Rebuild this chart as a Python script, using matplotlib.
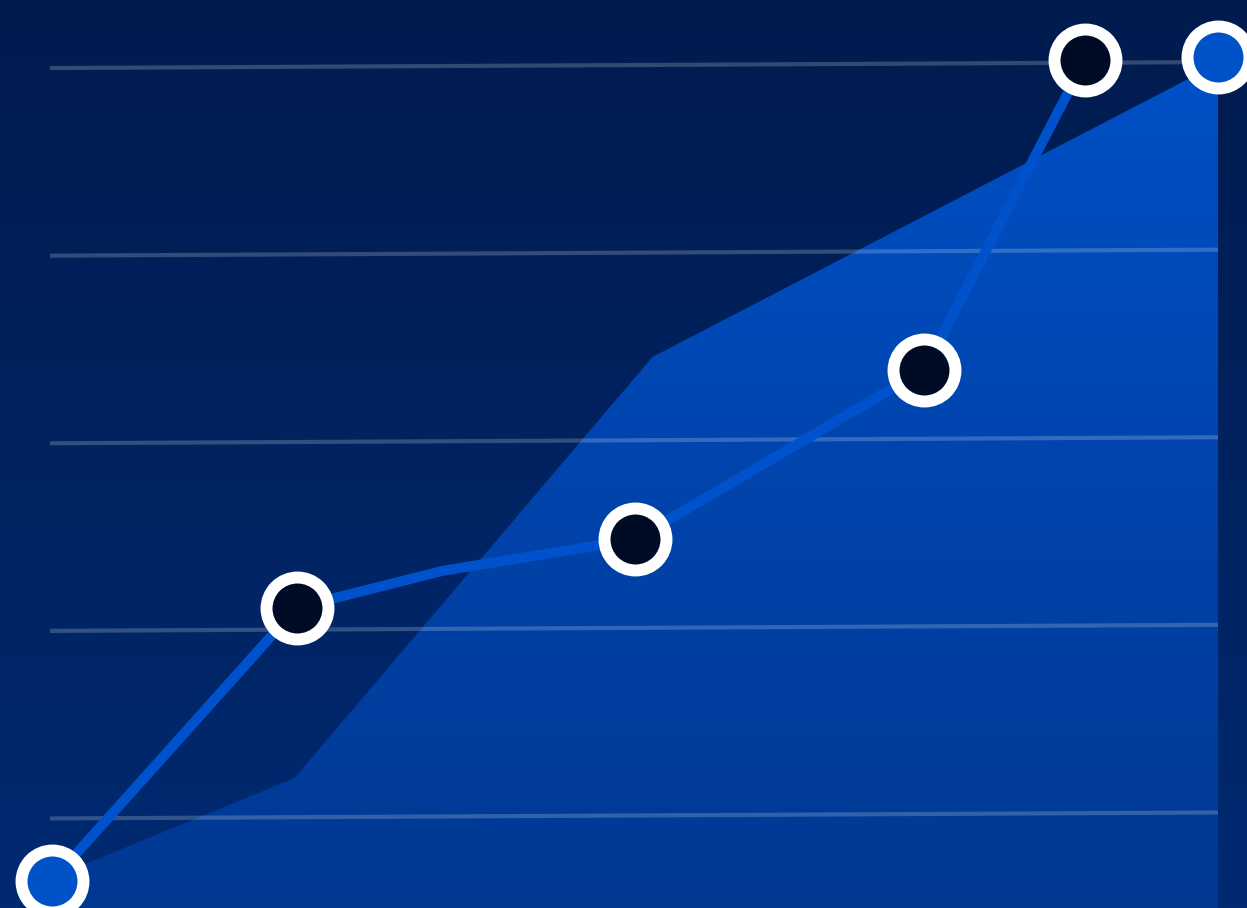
import matplotlib
matplotlib.use("Agg")
import matplotlib.pyplot as plt
import numpy as np
from matplotlib.colors import LinearSegmentedColormap
from matplotlib.patches import Polygon

# line series (x in percent of width, y in grid units)
line_x = [0, 21.0, 33.5, 50.0, 74.8, 88.6]
line_y = [-8.7, 27.7, 32.6, 36.8, 59.4, 100.7]
# which line points get a dark marker
dark_idx = [1, 3, 4, 5]

# end-point markers (blue fill)
end_x = [0, 100]
end_y = [-8.7, 101.1]

# filled area series
area_x = [0, 20.8, 51.5, 100]
area_y = [-8.3, 5.0, 61.1, 100.2]

grid_levels = [0, 25, 50, 75, 100]

fig = plt.figure(figsize=(12.47, 9.08), dpi=100)
ax = fig.add_axes([0, 0, 1, 1])
xlim = (-4.46, 102.49)
ylim = (-12.33, 108.67)
ax.set_xlim(*xlim)
ax.set_ylim(*ylim)
ax.axis("off")

# background gradient
bg = LinearSegmentedColormap.from_list("bg", ["#002a72", "#001b4e"])
grad = np.linspace(0, 1, 256).reshape(-1, 1)
ax.imshow(grad, cmap=bg, aspect="auto", extent=[*xlim, *ylim],
          origin="lower", zorder=0)

# area with vertical gradient, clipped to polygon
poly_pts = list(zip(area_x, area_y)) + [(area_x[-1], ylim[0]), (area_x[0], ylim[0])]
poly = Polygon(poly_pts, closed=True, facecolor="none", edgecolor="none")
ax.add_patch(poly)
area_cm = LinearSegmentedColormap.from_list("area", ["#003892", "#0050c6"])
im = ax.imshow(grad, cmap=area_cm, aspect="auto",
               extent=[area_x[0], area_x[-1], ylim[0], max(area_y)],
               origin="lower", zorder=1)
im.set_clip_path(poly)

# gridlines (slightly tilted like the reference)
for lvl in grid_levels:
    ax.plot([-0.17, 100], [lvl - 0.4, lvl + 0.4], color="white", alpha=0.2,
            lw=3, solid_capstyle="butt", zorder=2)

# line
ax.plot(line_x, line_y, color="#0052cc", lw=7.2, solid_joinstyle="round",
        zorder=3, clip_on=False)

# markers
for i in dark_idx:
    ax.plot(line_x[i], line_y[i], "o", ms=44.6, mew=8.6, mec="white",
            mfc="#000c26", zorder=4, clip_on=False)
for x, y in zip(end_x, end_y):
    ax.plot(x, y, "o", ms=44.6, mew=8.6, mec="white",
            mfc="#0052c8", zorder=4, clip_on=False)

fig.savefig("out.png", dpi=100)
